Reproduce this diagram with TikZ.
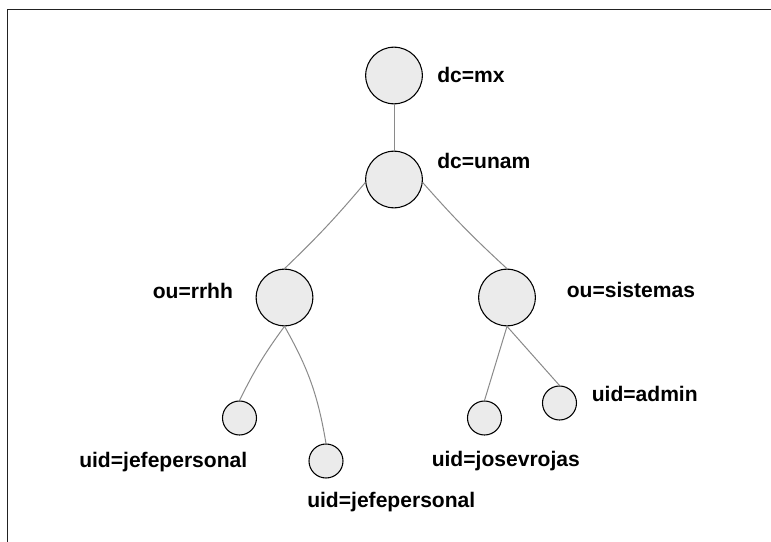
\documentclass[tikz,border=0pt]{standalone}
\usepackage{fontspec}
\setmainfont{Liberation Sans}
\begin{document}
\begin{tikzpicture}[x=0.75pt,y=-0.75pt,
  bignode/.style={circle,draw=black,line width=0.8pt,fill=nodefill,minimum size=42.5pt,inner sep=0pt},
  leafnode/.style={circle,draw=black,line width=0.8pt,fill=nodefill,minimum size=25.5pt,inner sep=0pt},
  lbl/.style={anchor=base west,inner sep=0pt,font=\fontsize{15.8}{18}\selectfont\bfseries},
  conn/.style={draw=linegray,line width=0.75pt}]
\definecolor{nodefill}{HTML}{EBEBEB}
\definecolor{linegray}{HTML}{8A8A8A}
\definecolor{framecol}{HTML}{222222}
\useasboundingbox (0,0) rectangle (771,542);
\coordinate (fa) at (771,9.3);
\coordinate (fb) at (7.5,9.3);
\coordinate (fc) at (7.5,542);
\draw[framecol,line width=1pt] (fa) -- (fb) -- (fc);
% nodes
\node[bignode] (mx) at (394,75.5) {};
\node[bignode] (unam) at (394,179.5) {};
\node[bignode] (rrhh) at (284.5,297.5) {};
\node[bignode] (sist) at (507,297.5) {};
\node[leafnode] (jp1) at (239.5,418) {};
\node[leafnode] (jp2) at (326,461) {};
\node[leafnode] (jvr) at (484.5,418) {};
\node[leafnode] (adm) at (559.5,403) {};
% connectors
\draw[conn] (mx.south) -- (unam.north);
\draw[conn] (unam.186) to[bend left=3] (rrhh.north);
\draw[conn] (unam.354) to[bend right=3] (sist.north);
\draw[conn] (rrhh.south) to[bend right=5] (jp1.north);
\draw[conn] (rrhh.south) to[bend left=10] (jp2.north);
\draw[conn] (sist.south) -- (jvr.north);
\draw[conn] (sist.south) -- (adm.north);
% labels
\node[lbl] (lmx) at (437,83) {dc=mx};
\node[lbl] (lunam) at (437,168) {dc=unam};
\node[lbl] (lrrhh) at (152.5,298) {ou=rrhh};
\node[lbl] (lsist) at (566.5,297) {ou=sistemas};
\node[lbl] (ladm) at (591.5,401) {uid=admin};
\node[lbl] (ljp1) at (79,467) {uid=jefepersonal};
\node[lbl] (ljp2) at (307,507) {uid=jefepersonal};
\node[lbl] (ljvr) at (431.5,466.5) {uid=josevrojas};
\end{tikzpicture}
\end{document}
